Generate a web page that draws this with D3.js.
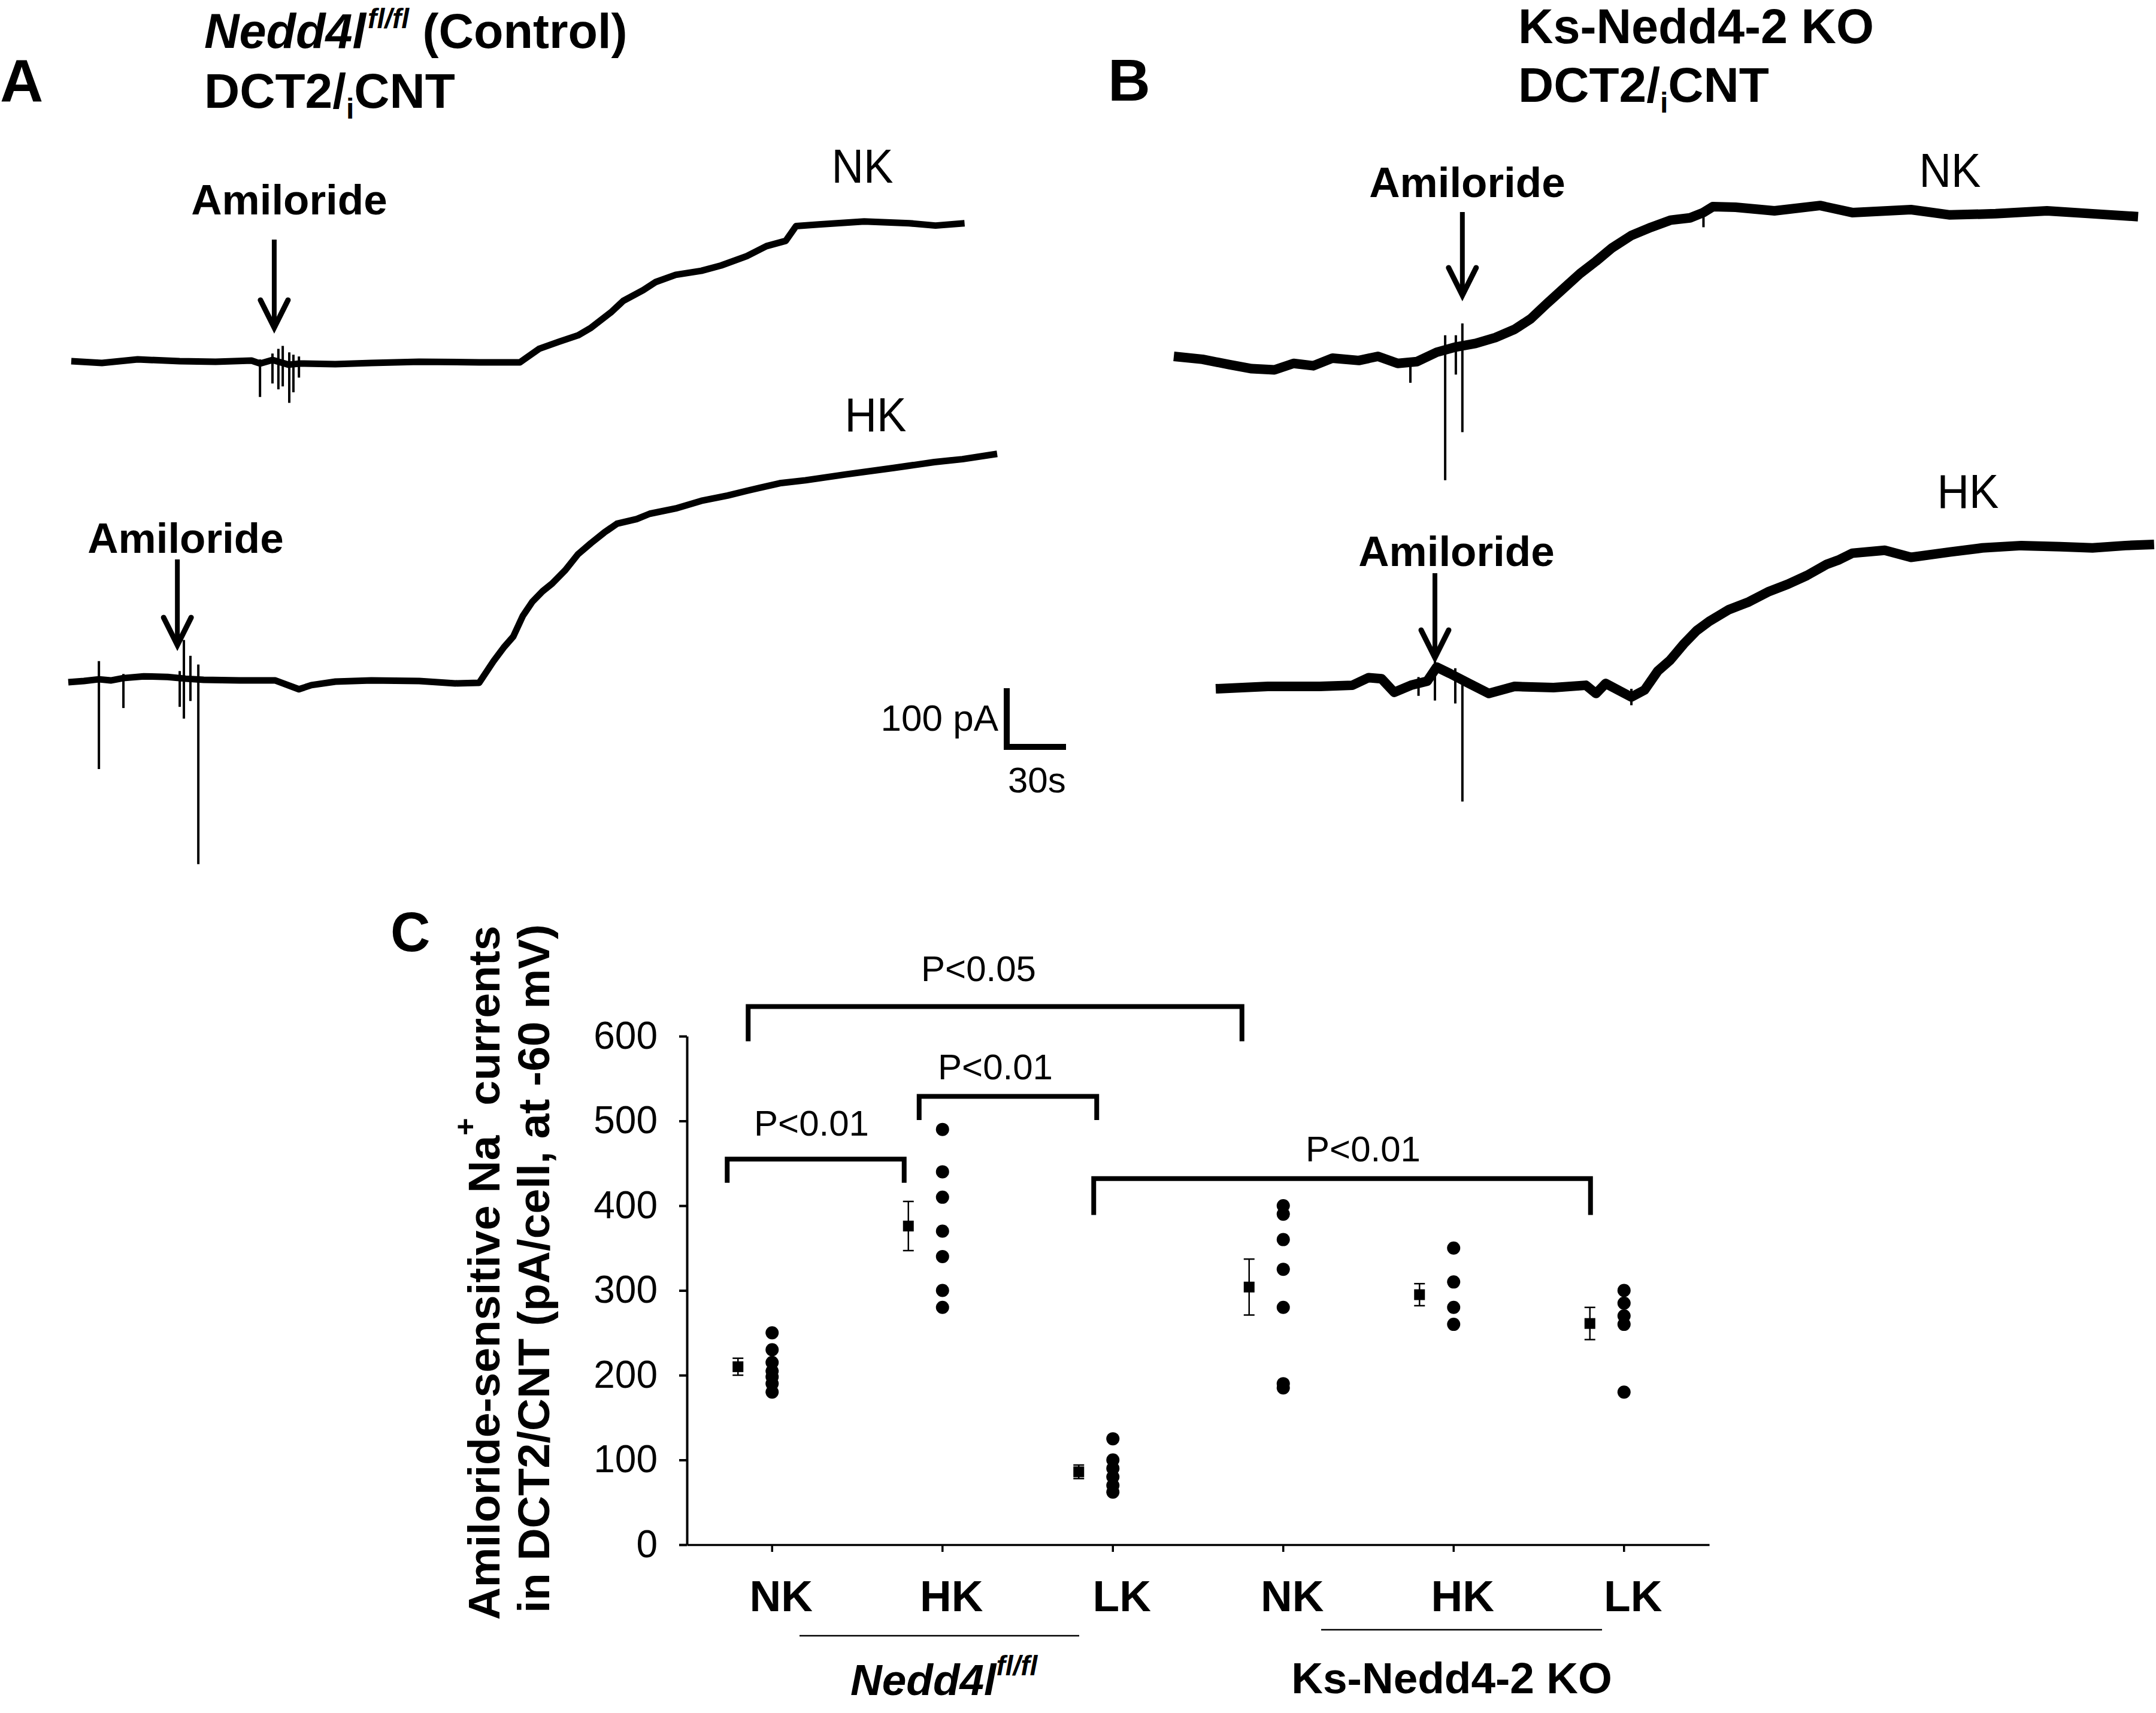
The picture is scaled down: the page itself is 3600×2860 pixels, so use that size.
<!DOCTYPE html>
<html><head><meta charset="utf-8">
<script src="https://cdn.jsdelivr.net/npm/d3@7"></script>
<style>
body{margin:0;background:#fff}
svg{display:block}
</style>
</head><body>
<svg id="fig" width="3600" height="2860"></svg>
<script>
// ---------------- DATA ----------------
// Patch-clamp traces: [time (s), current change (pA)]
const traceA_NK = [[0,0],[15.5,-3],[33.6,3],[54.8,0],[73,-1],[91.2,1],[95.5,-4],[101.8,2],[110,-6],[115.5,-4],[133.6,-5],[151.8,-3],[176,-1],[206.4,-2],[227,-2],[230,5],[236.7,21],[246.7,33],[256.4,44],[263,57],[273,83],[279.4,103],[289.4,121],[295.8,135],[305.8,147],[318.8,154],[328.8,163],[341.8,179],[351.8,196],[361.5,205],[366.7,230],[378.2,233],[401.2,238],[424,235],[437.3,231],[452,235]];
const spikesA_NK = [[95.5,-61,3],[101.8,-38,13],[104.8,-48,21],[107,-43,26],[110.3,-71,15],[112.4,-53,11],[115.2,-28,8]];

const traceA_HK = [[0,0],[7.9,2],[15.5,5],[21.5,3],[27.9,7],[38.2,10],[50.3,9],[59.4,6],[68.5,4],[86.7,3],[104.8,3],[116.7,-12],[123,-5],[135.2,1],[153.3,3],[177.6,2],[195.8,-2],[207.9,-1],[215.2,36],[220.3,59],[225.2,78],[230,113],[234.8,137],[240,155],[244.8,168],[251.5,191],[257.9,218],[264.5,237],[271.2,255],[277.6,270],[287.6,278],[294.2,287],[307.3,296],[320.3,309],[333.6,318],[343.3,326],[360,339],[373,344],[393.3,354],[417.6,365],[438.2,375],[452.4,380],[470,389]];
const spikesA_HK = [[15.5,-148,36],[27.9,-44,14],[56.4,-42,19],[58.5,-62,72],[61.8,-32,45],[65.8,-310,30]];

const traceB_NK = [[0,0],[14.5,-5],[27.9,-14],[39.4,-21],[50.9,-23],[60.6,-12],[70.6,-16],[80.3,-3],[93.6,-7],[103.3,0],[113.3,-12],[123,-9],[133,7],[142.7,16],[152.7,22],[162.7,32],[172.4,46],[180.6,64],[188.8,90],[197,115],[205.5,141],[213.6,162],[221.8,185],[231.5,206],[241.5,220],[251.2,232],[261.2,236],[267.9,245],[272.7,255],[284.2,254],[303.9,248],[327,257],[343.3,245],[373,250],[392.7,241],[415.8,243],[441.8,248],[464.8,243],[487.9,238]];
const spikesB_NK = [[119.7,-45,-5],[137.3,-211,36],[142.7,-31,36],[146,-129,56],[268,220,252]];

const traceB_HK = [[0,0],[26.4,4],[52.7,4],[69.1,6],[77.3,19],[83.9,17],[90.3,-6],[98.8,6],[107,13],[111.8,37],[118.5,26],[128.2,9],[138.2,-8],[151.2,4],[170.9,2],[187.3,6],[192.4,-8],[197.3,9],[210.3,-14],[217,-2],[223.6,30],[230,49],[236.7,76],[243.3,99],[249.7,115],[259.7,135],[269.7,148],[279.4,165],[289.4,178],[299.1,193],[309.1,212],[315.5,220],[322.1,231],[338.5,236],[351.8,224],[371.5,233],[387.9,240],[407.6,244],[427.3,242],[443.6,240],[460.3,244],[474.8,246]];
const spikesB_HK = [[102.6,-12,20],[110.9,-20,53],[121.2,-25,35],[124.8,-192,13],[210.3,-28,0]];

const amilorideTimes = [102.7, 55.2, 146, 110.9];   // s, per trace
const traceLabels = ["NK","HK","NK","HK"];
const scaleBarPA = 100, scaleBarSec = 30;

// Panel C
const categories = ["NK","HK","LK","NK","HK","LK"];
const groupNames = ["Nedd4l","Ks-Nedd4-2 KO"];
const cellValues = [
  [250,230,215,205,198,190,180],
  [490,440,410,370,340,300,280],
  [125,100,90,80,70,62],
  [400,390,360,325,280,190,185],
  [350,310,280,260],
  [300,285,270,260,180]
];
const means = [210,376,86,304,295,261];
const sems  = [10,29,8,33,13,19];
const yTicks = [0,100,200,300,400,500,600];
const comparisons = [
  {label:"P<0.05", bar:635, leg:594, text:665},
  {label:"P<0.01", bar:455, leg:427, text:483},
  {label:"P<0.01", bar:529, leg:501, text:549},
  {label:"P<0.01", bar:432, leg:389, text:452}
];

// ---------------- DRAWING ----------------
const FONT = "'Liberation Sans', Arial, Helvetica, sans-serif";
const svg = d3.select("#fig").attr("font-family", FONT);

function T(x, y, s, o = {}) {
  const t = svg.append("text").attr("x", x).attr("y", y)
    .attr("font-size", o.size || 60)
    .attr("font-weight", o.bold ? "bold" : "normal")
    .attr("text-anchor", o.anchor || "start")
    .text(s);
  if (o.italic) t.attr("font-style", "italic");
  if (o.len) t.attr("textLength", o.len).attr("lengthAdjust", "spacingAndGlyphs");
  return t;
}

// Panel letters & titles
T(0, 170, "A", {size:100, bold:true});
T(1850, 168, "B", {size:98, bold:true});
T(652, 1588, "C", {size:92, bold:true});

{
  const t = svg.append("text").attr("x", 341).attr("y", 80).attr("font-size", 81).attr("font-weight","bold");
  t.append("tspan").attr("font-style","italic").text("Nedd4l");
  t.append("tspan").attr("font-style","italic").attr("font-size", 46).attr("dy", -33).attr("dx", 3).text("fl/fl");
  t.append("tspan").attr("dy", 33).text(" (Control)");
}
function dctTitle(x, y) {
  const t = svg.append("text").attr("x", x).attr("y", y).attr("font-size", 82).attr("font-weight","bold");
  t.append("tspan").text("DCT2/");
  t.append("tspan").attr("font-size", 48).attr("dy", 18).text("i");
  t.append("tspan").attr("dy", -18).text("CNT");
}
dctTitle(341, 180);
T(2535, 72, "Ks-Nedd4-2 KO", {size:81, bold:true});
dctTitle(2535, 170);

// Traces
const traces = [
  {data: traceA_NK, spikes: spikesA_NK, x0:119,  y0:603,  w:11, arrow:[400,547], lab:[483,358], tl:[1440,305]},
  {data: traceA_HK, spikes: spikesA_HK, x0:114,  y0:1139, w:11, arrow:[934,1077], lab:[310,923], tl:[1462,720]},
  {data: traceB_NK, spikes: spikesB_NK, x0:1960, y0:595,  w:16, arrow:[354,493], lab:[2450,329], tl:[3256,312]},
  {data: traceB_HK, spikes: spikesB_HK, x0:2030, y0:1150, w:16, arrow:[957,1098], lab:[2432,945], tl:[3286,848]}
];
const pxPerSec = 99 / scaleBarSec, pxPerPA = 98 / scaleBarPA;
traces.forEach((tr, i) => {
  const x = d3.scaleLinear().domain([0, 1]).range([tr.x0, tr.x0 + pxPerSec]);
  const y = d3.scaleLinear().domain([0, 1]).range([tr.y0, tr.y0 - pxPerPA]);
  const g = svg.append("g");
  g.append("path").datum(tr.data)
    .attr("d", d3.line().x(d => x(d[0])).y(d => y(d[1])))
    .attr("fill", "none").attr("stroke", "#000")
    .attr("stroke-width", tr.w).attr("stroke-linejoin", "round").attr("stroke-linecap","butt");
  g.selectAll("line.sp").data(tr.spikes).join("line").attr("class","sp")
    .attr("x1", d => x(d[0])).attr("x2", d => x(d[0]))
    .attr("y1", d => y(d[1])).attr("y2", d => y(d[2]))
    .attr("stroke", "#000").attr("stroke-width", 4);
  // amiloride arrow
  const ax = x(amilorideTimes[i]);
  const [top, tip] = tr.arrow;
  g.append("line").attr("x1", ax).attr("x2", ax).attr("y1", top).attr("y2", tip - 4)
    .attr("stroke", "#000").attr("stroke-width", 8);
  g.append("path").attr("d", `M${ax-23},${tip-46} L${ax},${tip} L${ax+23},${tip-46}`)
    .attr("fill", "none").attr("stroke", "#000").attr("stroke-width", 9)
    .attr("stroke-linecap","round").attr("stroke-linejoin","miter");
  T(tr.lab[0], tr.lab[1], "Amiloride", {size:71, bold:true, anchor:"middle"});
  T(tr.tl[0], tr.tl[1], traceLabels[i], {size:80, anchor:"middle", len:103});
});

// Scale bar
{
  const cx = 1681, cy = 1247;
  svg.append("line").attr("x1", cx).attr("x2", cx).attr("y1", cy + 4).attr("y2", cy - scaleBarPA * pxPerPA)
    .attr("stroke", "#000").attr("stroke-width", 10);
  svg.append("line").attr("x1", cx - 5).attr("x2", cx + scaleBarSec * pxPerSec).attr("y1", cy).attr("y2", cy)
    .attr("stroke", "#000").attr("stroke-width", 10);
  T(1667, 1220, scaleBarPA + " pA", {size:62, anchor:"end"});
  T(1683, 1323, scaleBarSec + "s", {size:60});
}

// ---------- Panel C ----------
const yC = d3.scaleLinear().domain([0, 600]).range([2579, 1730]);
const xC = d3.scaleBand().domain(d3.range(categories.length)).range([1147, 2854]);
const cx = i => xC(i) + xC.bandwidth() / 2;

const yAxis = svg.append("g").attr("transform", "translate(1147,0)")
  .call(d3.axisLeft(yC).tickValues(yTicks).tickSize(13).tickSizeOuter(0).tickPadding(36));
yAxis.attr("font-family", FONT).attr("font-size", 64);
yAxis.selectAll("path,line").attr("stroke-width", 4);

const xAxis = svg.append("g").attr("transform", "translate(0,2579)")
  .call(d3.axisBottom(xC).tickSize(12).tickSizeOuter(0).tickFormat(() => ""));
xAxis.selectAll("path,line").attr("stroke-width", 3.5);

categories.forEach((c, i) => T(cx(i) + 15, 2690, c, {size:73, bold:true, anchor:"middle"}));

// group underlines & names
svg.append("line").attr("x1", 1335).attr("x2", 1802).attr("y1", 2731).attr("y2", 2731).attr("stroke","#000").attr("stroke-width", 2.5);
svg.append("line").attr("x1", 2206).attr("x2", 2675).attr("y1", 2721).attr("y2", 2721).attr("stroke","#000").attr("stroke-width", 2.5);
{
  const t = svg.append("text").attr("x", 1420).attr("y", 2830).attr("font-size", 73).attr("font-weight","bold").attr("font-style","italic");
  t.append("tspan").text(groupNames[0]);
  t.append("tspan").attr("font-size", 46).attr("dy", -33).text("fl/fl");
}
T(2424, 2827, groupNames[1], {size:73, bold:true, anchor:"middle"});

// y-axis title
{
  const t1 = svg.append("text").attr("transform", "translate(834,2125) rotate(-90)")
    .attr("text-anchor", "middle").attr("font-size", 75).attr("font-weight", "bold");
  t1.append("tspan").text("Amiloride-sensitive Na");
  t1.append("tspan").attr("font-size", 50).attr("dy", -40).text("+");
  t1.append("tspan").attr("dy", 40).text(" currents");
  svg.append("text").attr("transform", "translate(917,2118) rotate(-90)")
    .attr("text-anchor", "middle").attr("font-size", 75).attr("font-weight", "bold")
    .text("in DCT2/CNT (pA/cell, at -60 mV)");
}

// individual cells
cellValues.forEach((vals, i) => {
  svg.append("g").selectAll("circle").data(vals).join("circle")
    .attr("cx", cx(i)).attr("cy", d => yC(d)).attr("r", 11).attr("fill", "#000");
});
// means ± SEM
const mOff = -57;
means.forEach((m, i) => {
  const x = cx(i) + mOff;
  const g = svg.append("g").attr("stroke", "#000").attr("stroke-width", 2.5);
  g.append("line").attr("x1", x).attr("x2", x).attr("y1", yC(m - sems[i])).attr("y2", yC(m + sems[i]));
  g.append("line").attr("x1", x - 9).attr("x2", x + 9).attr("y1", yC(m - sems[i])).attr("y2", yC(m - sems[i]));
  g.append("line").attr("x1", x - 9).attr("x2", x + 9).attr("y1", yC(m + sems[i])).attr("y2", yC(m + sems[i]));
  svg.append("rect").attr("x", x - 9).attr("y", yC(m) - 9).attr("width", 18).attr("height", 18).attr("fill", "#000");
});

// significance brackets: [category a, x offset, category b, x offset, text centre]
const bracketPos = [[0,-40,3,-69,1634],[0,-75,1,-64,1355],[1,-39,2,-27,1662],[2,-32,5,-56,2276]];
comparisons.forEach((c, k) => {
  const [ia, oa, ib, ob, tx] = bracketPos[k];
  const x1 = cx(ia) + oa, x2 = cx(ib) + ob;
  svg.append("path")
    .attr("d", `M${x1},${yC(c.leg)} L${x1},${yC(c.bar)} L${x2},${yC(c.bar)} L${x2},${yC(c.leg)}`)
    .attr("fill", "none").attr("stroke", "#000").attr("stroke-width", 8).attr("stroke-linejoin","miter");
  T(tx, yC(c.text), c.label, {size:60, anchor:"middle"});
});
</script>
</body></html>
